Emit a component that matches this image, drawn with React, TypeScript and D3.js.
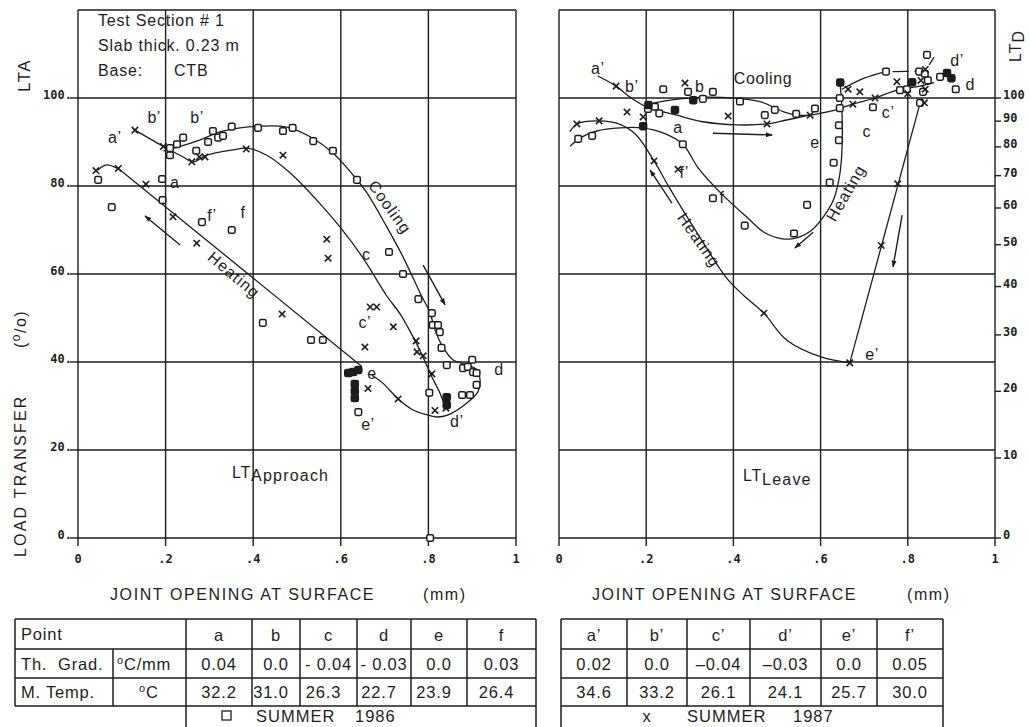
import React from 'react';
import * as d3 from 'd3';

type Pt = [number, number];

// ---------- axes ----------
const openingTicks = [0, 0.2, 0.4, 0.6, 0.8, 1];
const openingTickLabels = ['0', '.2', '.4', '.6', '.8', '1'];
const ltGrid = [0, 20, 40, 60, 80, 100, 120];
const ltTicks = [0, 20, 40, 60, 80, 100];
const ltTickLabels = ['0.', '20.', '40.', '60.', '80.', '100.'];
const ltdTicks = [0, 10, 20, 30, 40, 50, 60, 70, 80, 90, 100];
const ltdTickLabels = ['0', '10', '20', '30', '40', '50', '60', '70', '80', '90', '100'];

// ---------- LT approach (left panel) ----------
const approachSquares: Pt[] = [
  [0.046, 81.4], [0.077, 75.2], [0.192, 81.6], [0.193, 76.8], [0.21, 87], [0.21, 88.6],
  [0.226, 89.5], [0.24, 91], [0.27, 88], [0.283, 71.8], [0.297, 90], [0.308, 92.5],
  [0.32, 91], [0.331, 91.4], [0.351, 70], [0.351, 93.5], [0.411, 93.2], [0.468, 92.5],
  [0.49, 93.2], [0.537, 90.2], [0.582, 88], [0.637, 81.4], [0.71, 65], [0.742, 60],
  [0.777, 54.3], [0.422, 48.9], [0.532, 45], [0.559, 45], [0.64, 28.6], [0.808, 51.1],
  [0.81, 48.4], [0.822, 48.4], [0.826, 46.8], [0.83, 43.2], [0.842, 39.3], [0.802, 33],
  [0.877, 32.5], [0.895, 32.5], [0.879, 38.6], [0.89, 38.9], [0.9, 40.5], [0.902, 37.7],
  [0.91, 37.5], [0.91, 34.8], [0.804, 0],
];
const approachSquaresSolid: Pt[] = [
  [0.617, 37.5], [0.628, 37.7], [0.64, 38.2], [0.632, 35], [0.632, 33.4], [0.632, 31.8],
  [0.842, 32], [0.842, 30.2],
];
const approachCrosses: Pt[] = [
  [0.13, 92.7], [0.041, 83.5], [0.092, 84], [0.155, 80.4], [0.195, 89], [0.217, 73],
  [0.271, 67], [0.26, 85.5], [0.277, 86.6], [0.29, 86.6], [0.384, 88.4], [0.468, 87],
  [0.568, 67.9], [0.571, 63.6], [0.466, 50.9], [0.667, 52.5], [0.682, 52.5], [0.72, 48],
  [0.655, 43.4], [0.772, 44.8], [0.774, 42.3], [0.788, 41.4], [0.808, 37.3], [0.662, 34],
  [0.731, 31.6], [0.815, 29], [0.84, 31.5], [0.84, 29.5],
];
// hand-fitted trend curves (knots)
const approachCooling1986: Pt[] = [
  [0.195, 88], [0.233, 89], [0.279, 90.5], [0.324, 92.3], [0.37, 93.2], [0.416, 93.6],
  [0.477, 93.4], [0.53, 91.2], [0.582, 87.5], [0.628, 82.5], [0.66, 78.4], [0.705, 70.7],
  [0.742, 63.9], [0.781, 55.7], [0.804, 51.1], [0.815, 47.3], [0.833, 43.4], [0.856, 40.5],
  [0.888, 39.3], [0.91, 38.3], [0.918, 35.9], [0.913, 33.2], [0.888, 30.7], [0.845, 28],
  [0.82, 27.5], [0.797, 28], [0.765, 29.1], [0.731, 31.6], [0.696, 35.2], [0.671, 37],
];
const approachCooling1987: Pt[] = [
  [0.13, 92.7], [0.195, 89], [0.21, 88.2], [0.24, 86.6], [0.263, 85.5], [0.294, 87],
  [0.354, 88.2], [0.386, 88.6], [0.431, 87], [0.484, 83], [0.545, 76.8], [0.598, 70.7],
  [0.651, 63.6], [0.705, 55], [0.735, 51], [0.765, 45.7], [0.788, 41.1], [0.808, 36.6],
  [0.826, 33], [0.838, 29.8],
];
const approachHeating: Pt[] = [[0.092, 84], [0.648, 39]];
const approachStub: Pt[] = [[0.045, 83.6], [0.065, 84.8], [0.09, 84]];
const approachArrows: Pt[][] = [
  [[0.233, 66.6], [0.153, 73.2]],
  [[0.788, 62], [0.838, 53]],
];
const approachLabels: { t: string; p: Pt }[] = [
  { t: 'a’', p: [0.084, 91.1] }, { t: 'b’', p: [0.174, 95.5] }, { t: 'b’', p: [0.272, 95.5] },
  { t: 'a', p: [0.221, 80.9] }, { t: 'f’', p: [0.306, 73.4] }, { t: 'f', p: [0.377, 73.9] },
  { t: 'c', p: [0.658, 64.5] }, { t: 'c’', p: [0.655, 48.9] }, { t: 'e', p: [0.671, 37.5] },
  { t: 'e’', p: [0.662, 25.7] }, { t: 'd', p: [0.961, 38.4] }, { t: 'd’', p: [0.865, 26.4] },
];
const approachTurned: { t: string; p: Pt; r: number }[] = [
  { t: 'Cooling', p: [0.712, 75.2], r: 54 },
  { t: 'Heating', p: [0.356, 59.8], r: 40 },
];

// ---------- LT leave (right panel) ----------
const leaveSquares: Pt[] = [
  [0.044, 90.7], [0.076, 91.4], [0.204, 97.5], [0.22, 98], [0.23, 96.5], [0.239, 102],
  [0.284, 89.5], [0.296, 101.4], [0.33, 99.8], [0.353, 101.4], [0.353, 77.2], [0.415, 99.2],
  [0.426, 71], [0.472, 96.1], [0.495, 97.3], [0.539, 69.2], [0.544, 96.4], [0.569, 75.7],
  [0.587, 97.6], [0.621, 80.8], [0.63, 85.3], [0.642, 90.4], [0.642, 93.8], [0.644, 97.7],
  [0.644, 100], [0.72, 97.9], [0.75, 106], [0.782, 101.8], [0.798, 102], [0.826, 106],
  [0.839, 105.5], [0.844, 109.8], [0.846, 104], [0.835, 101.4], [0.828, 98.9], [0.874, 104.8],
  [0.91, 102],
];
const leaveSquaresSolid: Pt[] = [
  [0.193, 93.6], [0.266, 97.3], [0.308, 99.5], [0.645, 103.5], [0.81, 103.6], [0.89, 105.7],
  [0.9, 104.5], [0.205, 98.4],
];
const leaveCrosses: Pt[] = [
  [0.041, 94.1], [0.092, 94.8], [0.131, 102.7], [0.156, 96.8], [0.193, 95.7], [0.218, 85.7],
  [0.273, 83.8], [0.289, 103.4], [0.388, 95.9], [0.477, 94.1], [0.576, 96.1], [0.663, 102],
  [0.69, 101.4], [0.674, 98.6], [0.725, 100], [0.775, 103.7], [0.777, 80.5], [0.739, 66.5],
  [0.47, 51.1], [0.667, 39.8], [0.8, 101], [0.83, 104], [0.84, 102], [0.84, 106.5], [0.838, 98.9],
];
const leaveHeating1987: Pt[] = [
  [0.025, 92.3], [0.041, 94.1], [0.092, 94.8], [0.14, 94], [0.176, 91.7], [0.218, 85.7],
  [0.252, 79.8], [0.317, 69.3], [0.385, 59], [0.425, 55], [0.47, 51.1], [0.522, 45],
  [0.599, 41.2], [0.667, 39.8],
];
const leaveHeating1986: Pt[] = [
  [0.645, 103], [0.649, 97], [0.649, 88], [0.643, 82], [0.63, 77], [0.61, 73.5], [0.58, 70],
  [0.545, 68.2], [0.512, 68], [0.47, 69.5], [0.43, 73], [0.37, 78.5], [0.32, 84],
  [0.284, 89.5], [0.24, 92], [0.19, 93.2], [0.14, 93.2], [0.087, 92.5], [0.05, 91], [0.025, 89],
];
const leaveCooling1986: Pt[] = [
  [0.2, 98.5], [0.255, 99.5], [0.339, 100.2], [0.408, 99.9], [0.461, 99.2], [0.514, 96.9],
  [0.545, 96.1], [0.574, 96.1], [0.636, 97.3],
];
const leaveCooling1987: Pt[] = [
  [0.089, 105], [0.131, 102.7], [0.163, 100.2], [0.2, 98], [0.27, 96.1], [0.33, 94.6],
  [0.408, 93.9], [0.476, 94.1], [0.522, 95], [0.574, 96.1],
];
const leaveCoolingEnd: Pt[] = [
  [0.636, 97.3], [0.674, 98.6], [0.725, 100], [0.775, 101.8], [0.828, 102.7], [0.86, 103.5],
];
const leaveUpper: Pt[] = [[0.649, 102], [0.7, 104.5], [0.75, 106]];
const leaveUpperDash: Pt[] = [[0.765, 106], [0.83, 106.1]];
const leaveReturn: Pt[] = [[0.667, 39.8], [0.83, 99.5]];
const leaveLeader: Pt[] = [[0.849, 107.5], [0.86, 109.3]];
const leaveArrows: Pt[][] = [
  [[0.259, 76.1], [0.209, 83.6]],
  [[0.353, 92], [0.489, 91.6]],
  [[0.583, 69.5], [0.541, 65.9]],
  [[0.787, 73.4], [0.766, 61.6]],
];
const leaveLabels: { t: string; p: Pt }[] = [
  { t: 'a’', p: [0.089, 106.8] }, { t: 'b’', p: [0.167, 102.7] }, { t: 'b', p: [0.323, 102.7] },
  { t: 'a', p: [0.273, 93.2] }, { t: 'f’', p: [0.287, 83] }, { t: 'f', p: [0.374, 77.3] },
  { t: 'e', p: [0.587, 90] }, { t: 'c', p: [0.706, 92.3] }, { t: 'c’', p: [0.755, 96.6] },
  { t: 'd’', p: [0.913, 108.6] }, { t: 'd', p: [0.943, 103] }, { t: 'e’', p: [0.718, 41.6] },
  { t: 'Cooling', p: [0.468, 104.5] },
];
const leaveTurned: { t: string; p: Pt; r: number }[] = [
  { t: 'Heating', p: [0.321, 67.7], r: 55 },
  { t: 'Heating', p: [0.658, 78.4], r: -60 },
];

// ---------- tables ----------
const pointsA = ['a', 'b', 'c', 'd', 'e', 'f'];
const gradA = ['0.04', '0.0', '- 0.04', '- 0.03', '0.0', '0.03'];
const tempA = ['32.2', '31.0', '26.3', '22.7', '23.9', '26.4'];
const pointsB = ['a’', 'b’', 'c’', 'd’', 'e’', 'f’'];
const gradB = ['0.02', '0.0', '–0.04', '–0.03', '0.0', '0.05'];
const tempB = ['34.6', '33.2', '26.1', '24.1', '25.7', '30.0'];

// ---------- drawing ----------
const FONT = '"Liberation Sans", Arial, Helvetica, sans-serif';
const PLOT_FONT = '"DejaVu Sans Mono", monospace';
const INK = '#1d1d1d';

const yLT = d3.scaleLinear().domain([0, 120]).range([538, 10]);
const xApproach = d3.scaleLinear().domain([0, 1]).range([78, 516]);
const xLeave = d3.scaleLinear().domain([0, 1]).range([559, 995]);
// deflection-based transfer expressed on the load-transfer grid
const ltFromLtd = (v: number) => (200 * v) / (100 + v);

function curvePath(x: d3.ScaleLinear<number, number>, pts: Pt[], smooth = true) {
  const line = d3
    .line<Pt>()
    .x((d) => x(d[0]))
    .y((d) => yLT(d[1]));
  if (smooth) line.curve(d3.curveCatmullRom.alpha(0.5));
  return line(pts) || '';
}

function Square({ cx, cy, solid }: { cx: number; cy: number; solid?: boolean }) {
  const s = solid ? 7 : 6.6;
  return (
    <rect x={cx - s / 2} y={cy - s / 2} width={s} height={s} rx={1.6}
      fill={solid ? INK : '#fff'} stroke={INK} strokeWidth={1.5} />
  );
}

function Cross({ cx, cy }: { cx: number; cy: number }) {
  const r = 3.2;
  return (
    <g stroke={INK} strokeWidth={1.6}>
      <line x1={cx - r} y1={cy - r} x2={cx + r} y2={cy + r} />
      <line x1={cx - r} y1={cy + r} x2={cx + r} y2={cy - r} />
    </g>
  );
}

function Grid({ x }: { x: d3.ScaleLinear<number, number> }) {
  const [x0, x1] = x.range();
  return (
    <g stroke={INK} strokeWidth={1.4}>
      {openingTicks.map((t) => (
        <line key={'v' + t} x1={x(t)} x2={x(t)} y1={yLT(120)} y2={yLT(0) + 8} />
      ))}
      {ltGrid.map((v) => (
        <line key={'h' + v} x1={x0} x2={x1} y1={yLT(v)} y2={yLT(v)} />
      ))}
    </g>
  );
}

function XTicks({ x }: { x: d3.ScaleLinear<number, number> }) {
  return (
    <g fontFamily={PLOT_FONT} fontWeight="bold" fontSize={12} fill={INK} textAnchor="middle">
      {openingTicks.map((t, i) => (
        <text key={t} x={x(t)} y={yLT(0) + 25}>{openingTickLabels[i]}</text>
      ))}
    </g>
  );
}

function Labels({ x, items, turned }: {
  x: d3.ScaleLinear<number, number>;
  items: { t: string; p: Pt }[];
  turned: { t: string; p: Pt; r: number }[];
}) {
  return (
    <g fontFamily={FONT} fontSize={16} fill={INK} letterSpacing={0.6}>
      {items.map((l, i) => (
        <text key={i} x={x(l.p[0])} y={yLT(l.p[1])} textAnchor="middle" dominantBaseline="central">
          {l.t}
        </text>
      ))}
      {turned.map((l, i) => (
        <text key={'r' + i} transform={`translate(${x(l.p[0])},${yLT(l.p[1])}) rotate(${l.r})`}
          textAnchor="middle" dominantBaseline="central" letterSpacing={1}>
          {l.t}
        </text>
      ))}
    </g>
  );
}

function Marks({ x, squares, solid, crosses }: {
  x: d3.ScaleLinear<number, number>; squares: Pt[]; solid: Pt[]; crosses: Pt[];
}) {
  return (
    <g>
      {squares.map((d, i) => <Square key={'s' + i} cx={x(d[0])} cy={yLT(d[1])} />)}
      {solid.map((d, i) => <Square key={'f' + i} cx={x(d[0])} cy={yLT(d[1])} solid />)}
      {crosses.map((d, i) => <Cross key={'x' + i} cx={x(d[0])} cy={yLT(d[1])} />)}
    </g>
  );
}

function Arrows({ x, arrows }: { x: d3.ScaleLinear<number, number>; arrows: Pt[][] }) {
  return (
    <g>
      {arrows.map((a, i) => (
        <path key={i} d={curvePath(x, a, false)} fill="none" stroke={INK} strokeWidth={1.4}
          markerEnd="url(#head)" />
      ))}
    </g>
  );
}

function DataTable({ x0, cols, points, grads, temps, withHeader, legend }: {
  x0: number; cols: number[]; points: string[]; grads: string[]; temps: string[];
  withHeader: boolean; legend: React.ReactNode;
}) {
  const rows = [619, 649, 678, 706];
  const first = withHeader ? 2 : 0;
  const cx = (i: number) => (cols[first + i] + cols[first + i + 1]) / 2;
  const right = cols[cols.length - 1];
  return (
    <g fontFamily={FONT} fontSize={16.5} fill={INK} letterSpacing={0.8}>
      <g stroke={INK} strokeWidth={1.5} fill="none">
        {rows.map((r) => <line key={r} x1={x0} x2={right} y1={r} y2={r} />)}
        {cols.map((c, i) => (
          <line key={i} x1={c} x2={c}
            y1={withHeader && i === 1 ? rows[1] : rows[0]}
            y2={i === first || i === cols.length - 1 ? 730 : rows[3]} />
        ))}
      </g>
      {withHeader && (
        <g>
          <text x={x0 + 6} y={640}>Point</text>
          <text x={x0 + 6} y={670} style={{ whiteSpace: 'pre' }}>Th.  Grad.</text>
          <text x={x0 + 6} y={698}>M. Temp.</text>
          <text x={cols[1] + 4} y={670}>
            <tspan fontSize={11} dy={-6}>o</tspan>
            <tspan dy={6}>C/mm</tspan>
          </text>
          <text x={cols[1] + 26} y={698}>
            <tspan fontSize={11} dy={-6}>o</tspan>
            <tspan dy={6}>C</tspan>
          </text>
        </g>
      )}
      {points.map((p, i) => (
        <text key={'p' + i} x={cx(i)} y={641} textAnchor="middle">{p}</text>
      ))}
      {grads.map((g, i) => (
        <text key={'g' + i} x={cx(i)} y={670} textAnchor="middle" style={{ whiteSpace: 'pre' }}>{g}</text>
      ))}
      {temps.map((t, i) => (
        <text key={'t' + i} x={cx(i) - (withHeader && i > 0 ? 5 : 0)} y={698} textAnchor="middle">{t}</text>
      ))}
      {legend}
    </g>
  );
}

export default function App() {
  const W = 1031;
  const H = 727;
  return (
    <svg width={W} height={H} viewBox={`0 0 ${W} ${H}`}
      style={{ position: 'absolute', left: 0, top: 0, background: '#fff' }}>
      <defs>
        <marker id="head" viewBox="0 0 10 10" refX={9} refY={5} markerWidth={7} markerHeight={7}
          orient="auto" markerUnits="userSpaceOnUse">
          <path d="M0,1.5 L10,5 L0,8.5 Z" fill={INK} />
        </marker>
      </defs>
      <rect width={W} height={H} fill="#fff" />

      {/* ---------- left panel: LT approach ---------- */}
      <Grid x={xApproach} />
      <g stroke={INK} strokeWidth={1.4}>
        {ltTicks.map((v) => (
          <line key={v} x1={70} x2={78} y1={yLT(v)} y2={yLT(v)} />
        ))}
      </g>
      <g fontFamily={PLOT_FONT} fontWeight="bold" fontSize={12} fill={INK} textAnchor="end">
        {ltTicks.map((v, i) => (
          <text key={v} x={72} y={yLT(v) + 1}>{ltTickLabels[i]}</text>
        ))}
      </g>
      <XTicks x={xApproach} />
      <g fill="none" stroke={INK} strokeWidth={1.3}>
        <path d={curvePath(xApproach, approachCooling1986)} />
        <path d={curvePath(xApproach, approachCooling1987)} />
        <path d={curvePath(xApproach, approachHeating, false)} />
        <path d={curvePath(xApproach, approachStub)} />
      </g>
      <Arrows x={xApproach} arrows={approachArrows} />
      <Marks x={xApproach} squares={approachSquares} solid={approachSquaresSolid} crosses={approachCrosses} />
      <Labels x={xApproach} items={approachLabels} turned={approachTurned} />

      <g fontFamily={FONT} fontSize={16} fill={INK} letterSpacing={0.8}>
        <text x={98} y={26}>Test Section  # 1</text>
        <text x={98} y={51}>Slab thick. 0.23 m</text>
        <text x={98} y={76}>Base:</text>
        <text x={174} y={76}>CTB</text>
        <text x={232} y={478}>LT<tspan dy={3} letterSpacing={1.2}>Approach</tspan></text>
        <text transform="translate(30,92) rotate(-90)" fontSize={17} letterSpacing={1.5}>LTA</text>
        <text transform="translate(26,557) rotate(-90)" letterSpacing={2.2}>LOAD TRANSFER</text>
        <text transform="translate(26,348) rotate(-90)" letterSpacing={1.5}>
          (<tspan fontSize={12} dy={-6}>o</tspan><tspan dy={6}>/o)</tspan>
        </text>
        <text x={110} y={600} letterSpacing={1.6}>JOINT OPENING AT SURFACE</text>
        <text x={423} y={600} letterSpacing={1.6}>(mm)</text>
      </g>

      {/* ---------- right panel: LT leave ---------- */}
      <Grid x={xLeave} />
      <g stroke={INK} strokeWidth={1.4}>
        {ltdTicks.map((v) => (
          <line key={v} x1={995} x2={1001} y1={yLT(ltFromLtd(v))} y2={yLT(ltFromLtd(v))} />
        ))}
      </g>
      <g fontFamily={PLOT_FONT} fontWeight="bold" fontSize={12} fill={INK}>
        {ltdTicks.map((v, i) => (
          <text key={v} x={1003} y={yLT(ltFromLtd(v)) + 1}>{ltdTickLabels[i]}</text>
        ))}
      </g>
      <XTicks x={xLeave} />
      <g fill="none" stroke={INK} strokeWidth={1.3}>
        <path d={curvePath(xLeave, leaveHeating1987)} />
        <path d={curvePath(xLeave, leaveHeating1986)} />
        <path d={curvePath(xLeave, leaveCooling1986)} />
        <path d={curvePath(xLeave, leaveCooling1987)} />
        <path d={curvePath(xLeave, leaveCoolingEnd)} />
        <path d={curvePath(xLeave, leaveUpper)} />
        <path d={curvePath(xLeave, leaveUpperDash, false)} strokeDasharray="16 6" />
        <path d={curvePath(xLeave, leaveReturn, false)} />
        <path d={curvePath(xLeave, leaveLeader, false)} />
      </g>
      <Arrows x={xLeave} arrows={leaveArrows} />
      <Marks x={xLeave} squares={leaveSquares} solid={leaveSquaresSolid} crosses={leaveCrosses} />
      <Labels x={xLeave} items={leaveLabels} turned={leaveTurned} />

      <g fontFamily={FONT} fontSize={16} fill={INK} letterSpacing={0.8}>
        <text x={743} y={481}>LT<tspan dy={4} letterSpacing={1.2}>Leave</tspan></text>
        <text transform="translate(1021,62) rotate(-90)" fontSize={16} letterSpacing={1}>
          LT<tspan dy={3}>D</tspan>
        </text>
        <text x={592} y={600} letterSpacing={1.6}>JOINT OPENING AT SURFACE</text>
        <text x={907} y={600} letterSpacing={1.6}>(mm)</text>
      </g>

      {/* ---------- tables ---------- */}
      <DataTable x0={15} cols={[15, 113, 186, 252, 300, 357, 411, 467, 536]}
        points={pointsA} grads={gradA} temps={tempA} withHeader
        legend={
          <g>
            <rect x={222} y={711} width={9} height={9} fill="none" stroke={INK} strokeWidth={1.3} />
            <text x={256} y={722} letterSpacing={1}>SUMMER</text>
            <text x={355} y={722} letterSpacing={1}>1986</text>
          </g>
        } />
      <DataTable x0={561} cols={[561, 627, 687, 750, 821, 877, 943]}
        points={pointsB} grads={gradB} temps={tempB} withHeader={false}
        legend={
          <g>
            <text x={647} y={722} textAnchor="middle">x</text>
            <text x={687} y={722} letterSpacing={1}>SUMMER</text>
            <text x={793} y={722} letterSpacing={1}>1987</text>
          </g>
        } />
    </svg>
  );
}
